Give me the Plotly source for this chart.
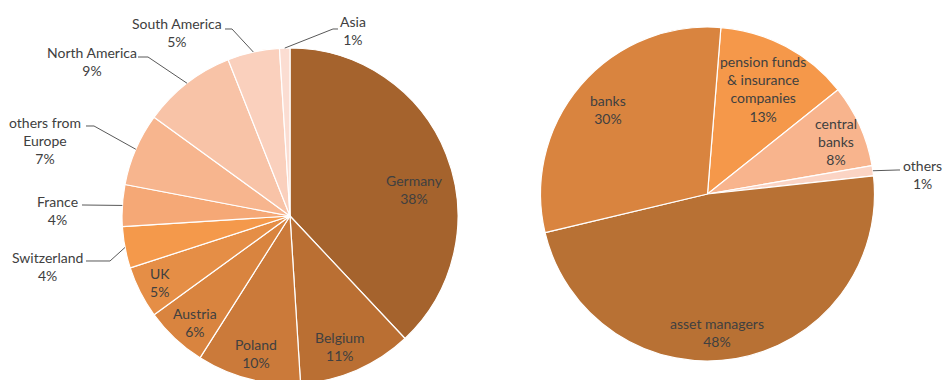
import math
import plotly.graph_objects as go

# Investors by region (left) and by type (right), shares in percent
regions = ["Germany", "Belgium", "Poland", "Austria", "UK", "Switzerland",
           "France", "others from Europe", "North America", "South America", "Asia"]
region_share = [38, 11, 10, 6, 5, 4, 4, 7, 9, 5, 1]
region_colors = ["#A5632D", "#BA6F33", "#CB7A3A", "#D9843F", "#E58E46", "#F4994B",
                 "#F5A876", "#F7B58E", "#F8C3A7", "#FAD0BD", "#FBDDD2"]

investors = ["pension funds & insurance companies", "central banks", "others",
             "asset managers", "banks"]
investor_share = [13, 8, 1, 48, 30]
investor_colors = ["#F5984A", "#F8B48D", "#FBD4C4", "#B87134", "#D9843F"]

W, H = 944, 388
TEXT = "#404040"
FONT = "Lato"

# pie geometry in pixels: centre x, centre y (from top), radius, start rotation
LEFT = dict(cx=290, cy=216, r=168, rot=0.0)
RIGHT = dict(cx=707.5, cy=194, r=167, rot=4.6)

# how each slice label is laid out:
#   ("in", angle offset in degrees, distance as a fraction of the radius)
#   ("out", text centre px, elbow px, line end px)
left_labels = {
    "Germany": ("in", 9.4, 0.76),
    "Belgium": ("in", 2.5, 0.83),
    "Poland": ("in", -0.6, 0.845),
    "Austria": ("in", -1.6, 0.85),
    "UK": ("in", 0.1, 0.87),
    "Switzerland": ("out", (47, 266), (110, 261), (86, 261)),
    "France": ("out", (57, 211), (82, 205), (82, 205)),
    "others from Europe": ("out", (45, 140), (94, 126), (86, 126)),
    "North America": ("out", (92, 62), (148, 57), (138, 57)),
    "South America": ("out", (177, 32), (232, 29), (225, 29)),
    "Asia": ("out", (353, 31), (333, 29), (338, 29)),
}
right_labels = {
    "pension funds & insurance companies": ("in", -0.1, 0.71),
    "central banks": ("in", 2.1, 0.83),
    "others": ("out", (922, 175), (898, 170), (900, 170)),
    "asset managers": ("in", 5.7, 0.83),
    "banks": ("in", -0.2, 0.78),
}
display = {
    "others from Europe": "others from<br>Europe",
    "pension funds & insurance companies": "pension funds<br>& insurance<br>companies",
    "central banks": "central<br>banks",
}


def px_to_paper(x, y):
    return x / W, 1 - y / H


def domain(g):
    x0, y1 = px_to_paper(g["cx"] - g["r"], g["cy"] - g["r"])
    x1, y0 = px_to_paper(g["cx"] + g["r"], g["cy"] + g["r"])
    return dict(x=[x0, x1], y=[max(y0, 0.0), y1])


def pie(names, values, colors, g):
    return go.Pie(
        labels=names, values=values, sort=False, direction="clockwise",
        rotation=g["rot"], marker=dict(colors=colors, line=dict(color="white", width=1.2)),
        textinfo="none", hoverinfo="label+percent", showlegend=False,
        domain=domain(g),
    )


def point_at(g, angle_deg, dist):
    a = math.radians(angle_deg)
    return g["cx"] + dist * math.sin(a), g["cy"] - dist * math.cos(a)


annotations, shapes = [], []


def add_labels(names, values, g, specs):
    total = sum(values)
    start = g["rot"]
    for name, v in zip(names, values):
        span = 360 * v / total
        mid = start + span / 2
        start += span
        text = f"{display.get(name, name)}<br>{v}%"
        spec = specs[name]
        if spec[0] == "in":
            tx, ty = point_at(g, mid + spec[1], spec[2] * g["r"])
        else:
            (tx, ty), elbow, end = spec[1], spec[2], spec[3]
            ex, ey = point_at(g, mid, g["r"])
            pts = [(ex, ey), elbow, end]
            path = "M " + " L ".join(
                f"{px_to_paper(px, py)[0]:.5f},{px_to_paper(px, py)[1]:.5f}" for px, py in pts)
            shapes.append(dict(type="path", xref="paper", yref="paper", path=path,
                               line=dict(color="#595959", width=1)))
        ax, ay = px_to_paper(tx, ty)
        annotations.append(dict(x=ax, y=ay, xref="paper", yref="paper", text=text,
                                showarrow=False, xanchor="center", yanchor="middle",
                                align="center", font=dict(family=FONT, size=14, color=TEXT)))


add_labels(regions, region_share, LEFT, left_labels)
add_labels(investors, investor_share, RIGHT, right_labels)

fig = go.Figure([
    pie(regions, region_share, region_colors, LEFT),
    pie(investors, investor_share, investor_colors, RIGHT),
])
fig.update_layout(
    width=W, height=H, margin=dict(l=0, r=0, t=0, b=0),
    paper_bgcolor="white", plot_bgcolor="white",
    annotations=annotations, shapes=shapes,
    font=dict(family=FONT, color=TEXT),
)
fig.write_html("out.html", post_script="document.documentElement.style.overflow='hidden';document.body.style.overflow='hidden';")
